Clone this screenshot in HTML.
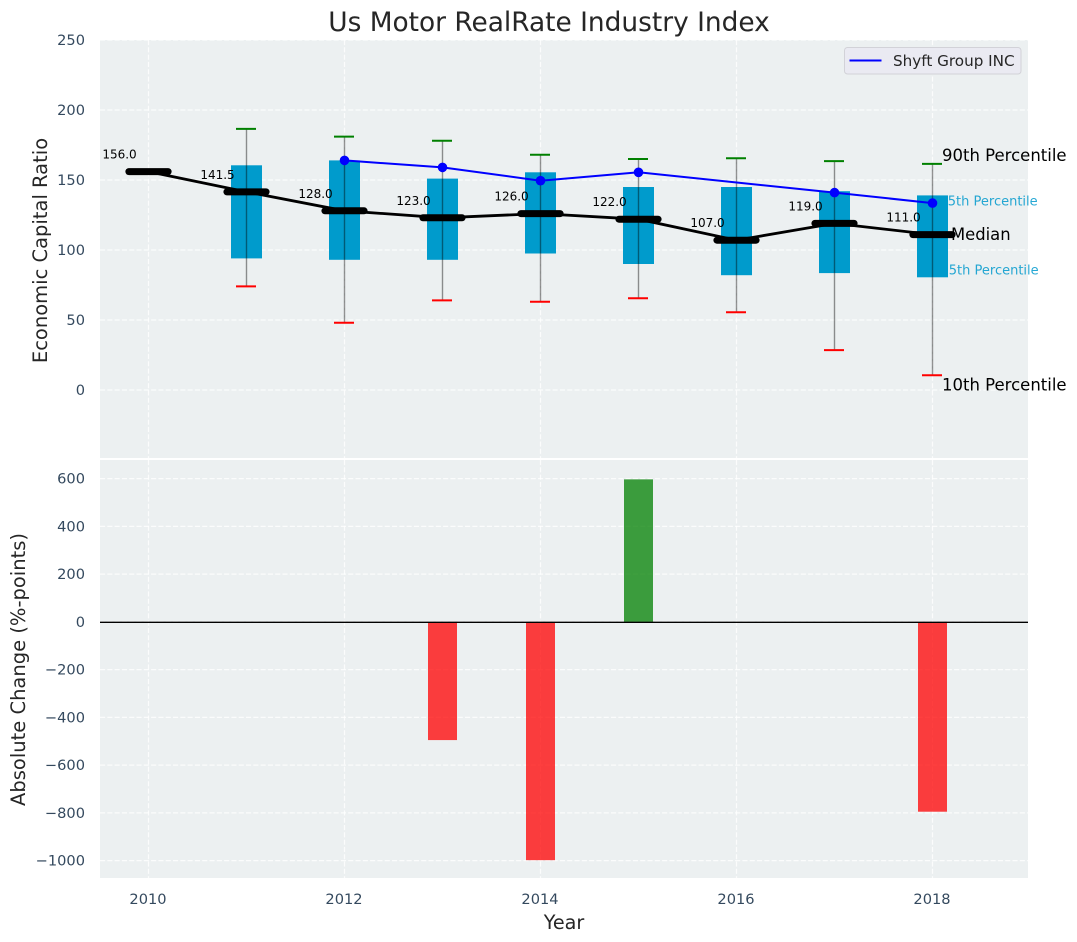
<!DOCTYPE html>
<html lang="en">
<head>
<meta charset="utf-8">
<title>Us Motor RealRate Industry Index</title>
<style>
html,body{margin:0;padding:0;background:#fff;width:1077px;height:942px;overflow:hidden}
svg{display:block}
text{font-family:"DejaVu Sans","Liberation Sans",sans-serif}
</style>
</head>
<body>
<svg id="chart" xmlns="http://www.w3.org/2000/svg" width="1077" height="942" viewBox="0 0 1077 942">
  <rect x="100" y="40" width="928" height="418" fill="#ecf0f1"/>
  <rect x="100" y="460" width="928" height="418" fill="#ecf0f1"/>
  <g id="grid"></g>
  <g id="top-marks"></g>
  <g id="bottom-marks"></g>
  <g id="ticks"></g>
  <text x="549" y="31" text-anchor="middle" font-size="26.4" fill="#262626">Us Motor RealRate Industry Index</text>
  <text transform="translate(47 250.5) rotate(-90)" text-anchor="middle" font-size="19.5" fill="#262626">Economic Capital Ratio</text>
  <text transform="translate(25 669.5) rotate(-90)" text-anchor="middle" font-size="19.5" fill="#262626">Absolute Change (%-points)</text>
  <text x="564" y="929" text-anchor="middle" font-size="19.2" fill="#262626">Year</text>
  <g>
    <rect x="844.5" y="47.5" width="176.5" height="26.5" rx="3" fill="#eaeaf2" stroke="#d2d2d8"/>
    <line x1="849.5" x2="881.5" y1="60.5" y2="60.5" stroke="#0000ff" stroke-width="2"/>
    <text x="893" y="66" font-size="15.2" fill="#262626">Shyft Group INC</text>
  </g>
</svg>
<script>
const years = [2010, 2011, 2012, 2013, 2014, 2015, 2016, 2017, 2018];
const whiskerHigh = [null, 186.5, 181, 178, 168, 165, 165.5, 163.5, 161.5];
const boxQ3 = [null, 160.5, 164, 151, 155.5, 145, 145, 142, 139];
const medians = [156, 141.5, 128, 123, 126, 122, 107, 119, 111];
const boxQ1 = [null, 94, 93, 93, 97.5, 90, 82, 83.5, 80.5];
const whiskerLow = [null, 74, 48, 64, 63, 65.5, 55.5, 28.5, 10.5];
const companySeries = [null, null, 164, 159, 149.5, 155.5, null, 141, 133.5];
const changeValues = [null, null, null, -495, -998, 597, null, null, -795];
const xTickValues = [2010, 2012, 2014, 2016, 2018];
const topTickValues = [0, 50, 100, 150, 200, 250];
const bottomTickValues = [-1000, -800, -600, -400, -200, 0, 200, 400, 600];

const x = v => 148.5 + (v - 2010) * 98;
const yTop = v => 390 - v * 1.4;
const yBottom = v => 621.9 - v * 0.23875;
const fmtTick = v => String(v).replace('-', '\u2212');

const NS = 'http://www.w3.org/2000/svg';
function make(tag, parent, attrs, content) {
  const node = document.createElementNS(NS, tag);
  for (const key in attrs) node.setAttribute(key, attrs[key]);
  if (content !== undefined) node.textContent = content;
  parent.appendChild(node);
  return node;
}

const gridLayer = document.getElementById('grid');
const topLayer = document.getElementById('top-marks');
const bottomLayer = document.getElementById('bottom-marks');
const tickLayer = document.getElementById('ticks');
const gridStyle = {stroke: '#ffffff', 'stroke-width': 1.2, 'stroke-dasharray': '5.1 2.2', 'stroke-opacity': 0.8};

for (const t of xTickValues) {
  const a = make('line', gridLayer, Object.assign({x1: x(t), x2: x(t), y1: 40, y2: 458}, gridStyle));
  
  
  const b = make('line', gridLayer, Object.assign({x1: x(t), x2: x(t), y1: 460, y2: 878}, gridStyle));
  
  
  const label = make('text', tickLayer, {x: x(t) - 0.5, y: 904, 'text-anchor': 'middle', 'font-size': 14.6, fill: '#34495e'}, fmtTick(t));
  
  
}
for (const t of topTickValues) {
  const g = make('line', gridLayer, Object.assign({x1: 100, x2: 1028, y1: yTop(t), y2: yTop(t)}, gridStyle));
  
  
  const label = make('text', tickLayer, {x: 85, y: yTop(t) + 5, 'text-anchor': 'end', 'font-size': 14.6, fill: '#34495e'}, fmtTick(t));
  
  
}
for (const t of bottomTickValues) {
  const g = make('line', gridLayer, Object.assign({x1: 100, x2: 1028, y1: yBottom(t), y2: yBottom(t)}, gridStyle));
  
  
  const label = make('text', tickLayer, {x: 85, y: yBottom(t) + 5, 'text-anchor': 'end', 'font-size': 14.6, fill: '#34495e'}, fmtTick(t));
  
  
}

/* percentile annotations sit beneath the last box, anchored to the last year's values */
const last = years.length - 1;
const lastX = x(years[last]);
const note75 = make('text', topLayer, {x: lastX + 7, y: yTop(boxQ3[last]) + 10, 'font-size': 13, fill: '#0099cc', 'fill-opacity': 0.85}, '75th Percentile');


const note25 = make('text', topLayer, {x: lastX + 8, y: yTop(boxQ1[last]) - 3, 'font-size': 13, fill: '#0099cc', 'fill-opacity': 0.85}, '25th Percentile');



years.forEach((yr, i) => {
  if (boxQ1[i] === null) return;
  const cx = x(yr);
  const box = make('rect', topLayer, {x: cx - 15.5, y: yTop(boxQ3[i]), width: 31, height: yTop(boxQ1[i]) - yTop(boxQ3[i]), fill: '#009bcc'});
  
  
  const whisker = make('line', topLayer, {x1: cx, x2: cx, y1: yTop(whiskerHigh[i]), y2: yTop(whiskerLow[i]), stroke: '#000000', 'stroke-opacity': 0.42, 'stroke-width': 1.4});
  
  
  const capHigh = make('line', topLayer, {x1: cx - 10.5, x2: cx + 9.5, y1: yTop(whiskerHigh[i]), y2: yTop(whiskerHigh[i]), stroke: '#008000', 'stroke-width': 2});
  
  
  const capLow = make('line', topLayer, {x1: cx - 10.5, x2: cx + 9.5, y1: yTop(whiskerLow[i]), y2: yTop(whiskerLow[i]), stroke: '#ff0000', 'stroke-width': 2});
  
  
});

const medianPath = make('polyline', topLayer, {points: years.map((yr, i) => x(yr) + ',' + yTop(medians[i])).join(' '), fill: 'none', stroke: '#000000', 'stroke-width': 2.8});



years.forEach((yr, i) => {
  const cx = x(yr);
  const bar = make('line', topLayer, {x1: cx - 19.6, x2: cx + 19.6, y1: yTop(medians[i]), y2: yTop(medians[i]), stroke: '#000000', 'stroke-width': 7, 'stroke-linecap': 'round'});
  
  
  const label = make('text', topLayer, {x: cx - 29, y: yTop(medians[i]) - 13, 'text-anchor': 'middle', 'font-size': 12, fill: '#000000'}, medians[i].toFixed(1));
  
  
});

const companyPoints = years.map((yr, i) => [yr, companySeries[i]]).filter(p => p[1] !== null);
const companyLine = make('polyline', topLayer, {points: companyPoints.map(p => x(p[0]) + ',' + yTop(p[1])).join(' '), fill: 'none', stroke: '#0000ff', 'stroke-width': 2});


for (const p of companyPoints) {
  const dot = make('circle', topLayer, {cx: x(p[0]), cy: yTop(p[1]), r: 4.8, fill: '#0000ff'});
  
  
}

const note90 = make('text', topLayer, {x: lastX + 9.5, y: yTop(whiskerHigh[last]) - 3, 'font-size': 16.5, fill: '#000000'}, '90th Percentile');


const noteMedian = make('text', topLayer, {x: lastX + 18.5, y: yTop(medians[last]) + 5.5, 'font-size': 16.4, fill: '#000000'}, 'Median');


const note10 = make('text', topLayer, {x: lastX + 9.5, y: yTop(whiskerLow[last]) + 15, 'font-size': 16.5, fill: '#000000'}, '10th Percentile');



years.forEach((yr, i) => {
  const v = changeValues[i];
  if (v === null) return;
  const top = Math.min(yBottom(v), yBottom(0));
  const rect = make('rect', bottomLayer, {x: x(yr) - 14.5, y: top, width: 29, height: Math.abs(yBottom(v) - yBottom(0)), fill: v < 0 ? '#ff0000' : '#008000', 'fill-opacity': 0.75});
  
  
});
const zeroLine = make('line', bottomLayer, {x1: 100, x2: 1028, y1: 622.3, y2: 622.3, stroke: '#000000', 'stroke-width': 1.3});


</script>
</body>
</html>
